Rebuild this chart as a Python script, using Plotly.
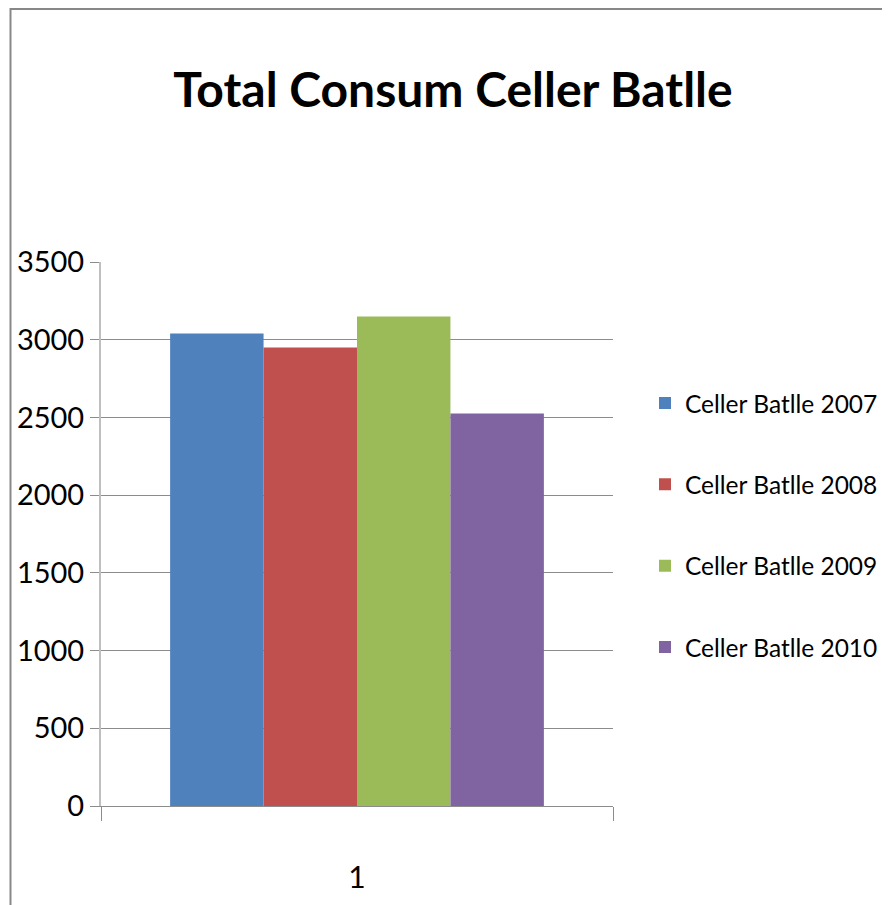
import plotly.graph_objects as go

categories = ["1"]
series_names = ["Celler Batlle 2007", "Celler Batlle 2008", "Celler Batlle 2009", "Celler Batlle 2010"]
series_values = [[3040], [2950], [3150], [2525]]
colors = ["#4F81BD", "#C0504D", "#9BBB59", "#8064A2"]
y_ticks = [0, 500, 1000, 1500, 2000, 2500, 3000, 3500]

FONT = "Lato, Liberation Sans, Arial"

fig = go.Figure()
for i, (name, vals, col) in enumerate(zip(series_names, series_values, colors)):
    fig.add_trace(go.Bar(x=categories, y=vals, name=name, marker=dict(color=col, line=dict(width=0)),
                         legendgroup=f"g{i}"))

fig.update_layout(
    width=890, height=905,
    margin=dict(l=93, r=285, t=254, b=107, autoexpand=False),
    paper_bgcolor="white", plot_bgcolor="white",
    barmode="group", bargap=0.27, bargroupgap=0,
    title=dict(text="<b>Total Consum Celler Batlle</b>", x=0.5, xref="container", xanchor="center",
               y=0.909, yref="container", yanchor="middle",
               font=dict(family=FONT, size=48, color="black")),
    font=dict(family=FONT, color="black"),
    legend=dict(x=1.0625, xanchor="left", y=0.782, yanchor="top", font=dict(size=24.5, family=FONT),
                tracegroupgap=46.5, bgcolor="rgba(0,0,0,0)"),
    showlegend=True,
    xaxis=dict(type="category", tickson="boundaries", ticks="outside", ticklen=14, tickcolor="#8c8c8c",
               showline=True, linecolor="#8c8c8c", linewidth=1, tickfont=dict(size=30, family=FONT),
               ticklabelstandoff=45, showgrid=False),
    yaxis=dict(range=[0, 3500], tickvals=y_ticks, ticks="outside", ticklen=9, tickcolor="#8c8c8c",
               showline=True, linecolor="#bfbfbf", linewidth=2, showgrid=True, gridcolor="#8c8c8c",
               gridwidth=1, zeroline=False, tickfont=dict(size=29, family=FONT), ticklabelstandoff=0),
)

fig.add_shape(type="rect", xref="paper", yref="paper",
              x0=(2.5 - 93) / 512, x1=3, y0=-2, y1=797 / 544,
              line=dict(color="#888888", width=2), fillcolor="rgba(0,0,0,0)", layer="below")

fig.write_html("out.html")
